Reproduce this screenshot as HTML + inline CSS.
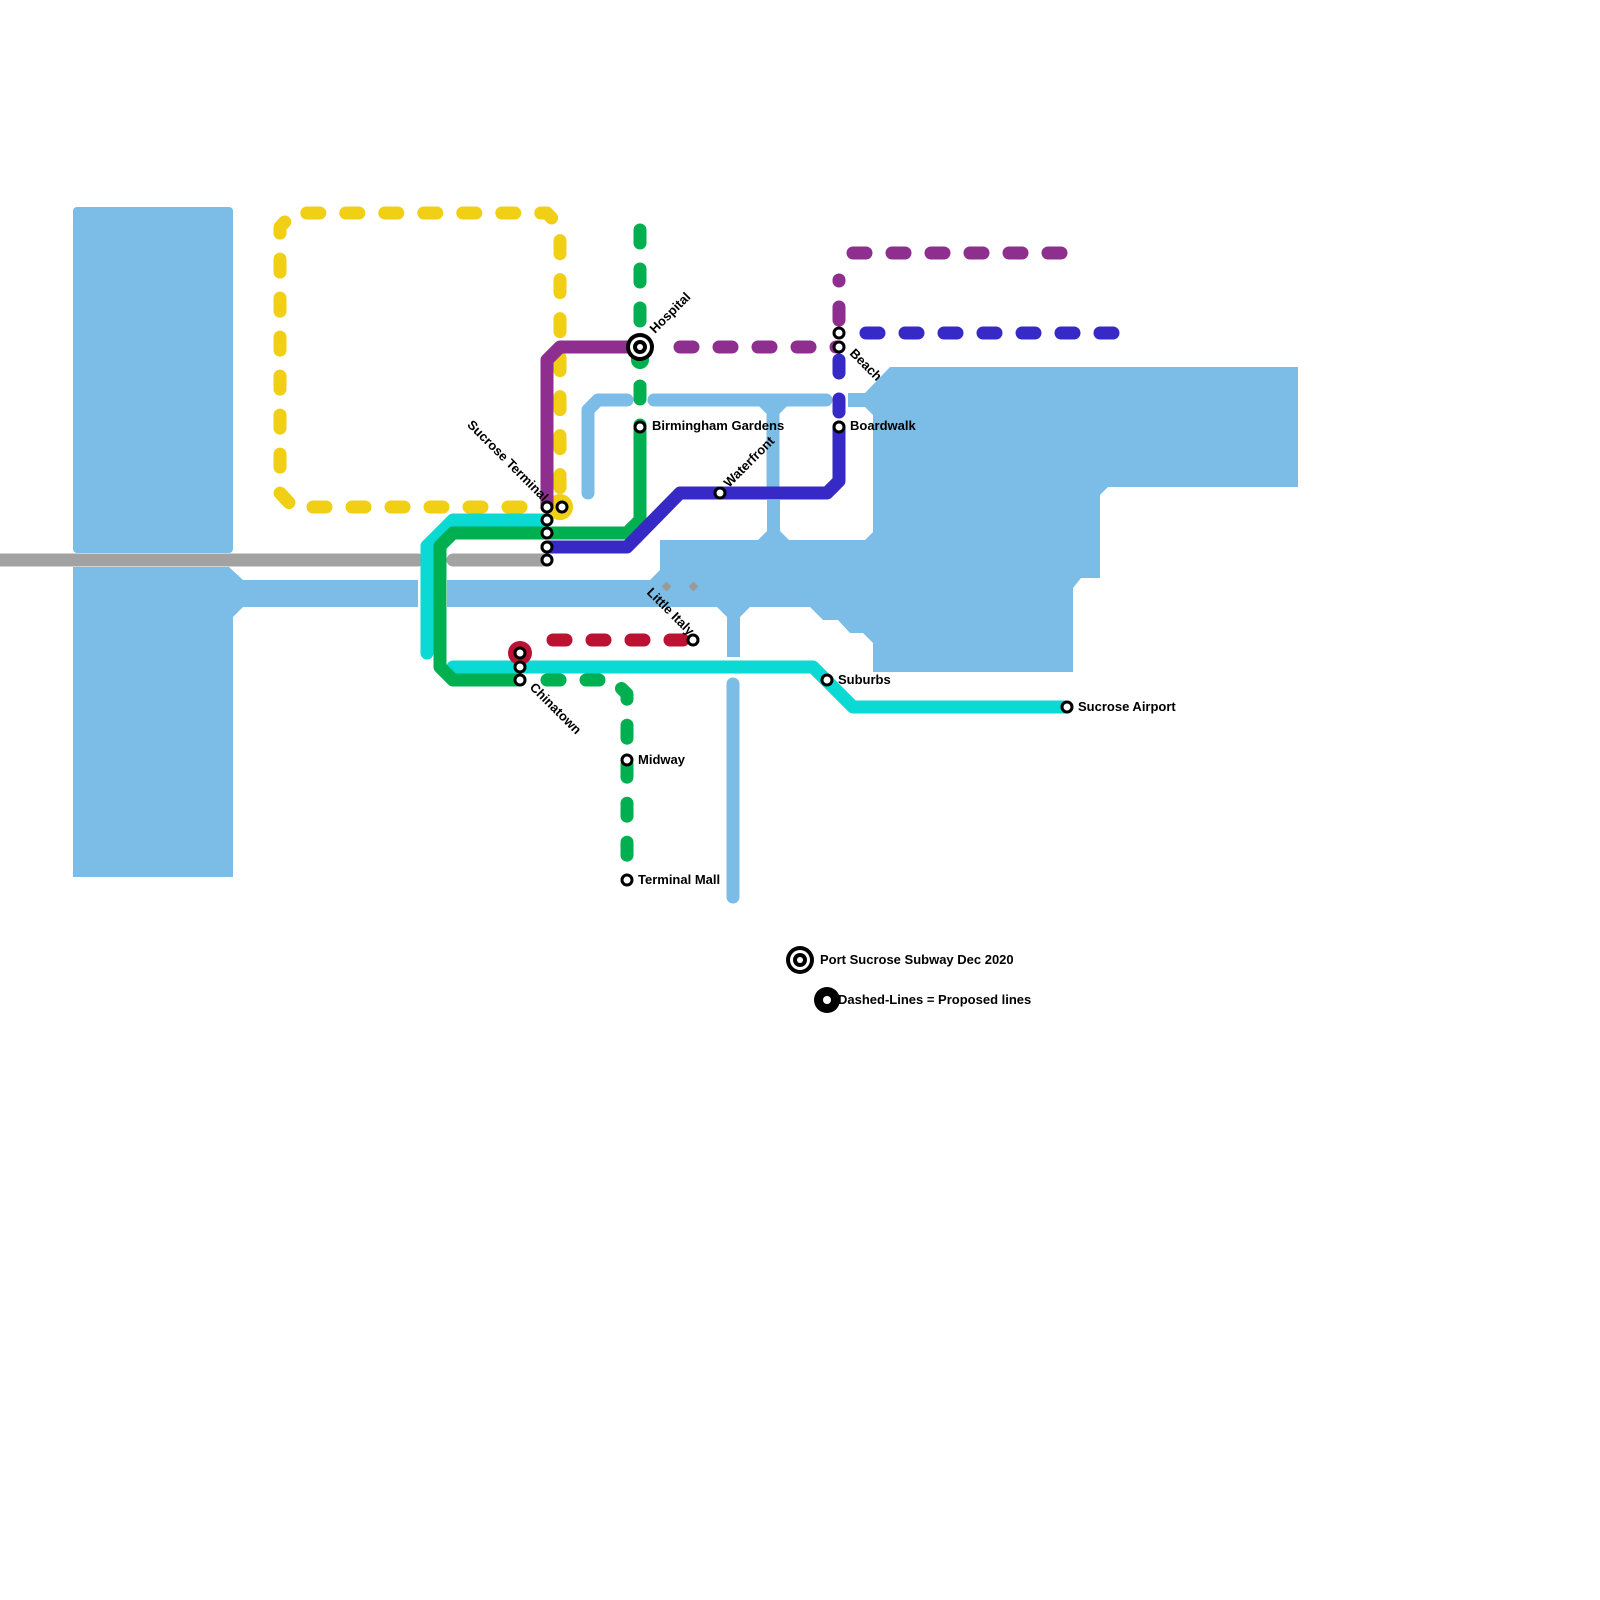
<!DOCTYPE html>
<html><head><meta charset="utf-8"><style>
html,body{margin:0;padding:0;background:#fff;}
svg{display:block;}
text{font-family:"Liberation Sans",Arial,sans-serif;font-weight:bold;font-size:13px;fill:#000;}
</style></head><body>
<svg width="1600" height="1600" viewBox="0 0 1600 1600" xmlns="http://www.w3.org/2000/svg">
<g fill="#7cbde8" stroke="none">
<rect x="73" y="207" width="160" height="346" rx="4"/>
<polygon points="73,567 229,567 243,580 418,580 418,607 243,607 233,617 233,877 73,877"/>
<polygon points="447,580 650,580 660,570 660,540 758,540 767,531 767,500 780,500 780,531 789,540 865,540 873,532 873,415 865,407 848,407 848,393 865,393 890,367 1298,367 1298,487 1108,487 1100,495 1100,578 1081,578 1073,588 1073,672 873,672 873,643 863,633 850,633 838,620 823,620 810,607 750,607 740,617 740,657 727,657 727,617 717,607 447,607"/>
</g>
<g fill="none" stroke="#7cbde8" stroke-width="13" stroke-linecap="round" stroke-linejoin="round">
<path d="M588,493 V410 L598,400 H627"/>
<path d="M654,400 H826"/>
<path d="M773,400 V487"/>
<path d="M762,400 L773,411 L784,400"/>
<path d="M733,684 V897"/>
</g>
<g fill="#999"><rect x="663" y="583" width="7" height="7" transform="rotate(45 666.5 586.5)"/><rect x="690" y="583" width="7" height="7" transform="rotate(45 693.5 586.5)"/></g>
<g fill="none" stroke-width="13" stroke-linecap="round" stroke-linejoin="round">
<path d="M0,560 H418 M453,560 H547" stroke="#a2a2a2"/>
<path d="M560,507 H293 L280,493 V227 L293,213 H547 L560,227 V507" stroke="#f0cf15" stroke-dasharray="13 26"/>
<circle cx="560" cy="507" r="7" stroke="#f0cf15" stroke-width="12"/>
<path d="M547,520 H453 L427,546 V653" stroke="#0bd9d3"/>
<path d="M453,667 H813 L853,707 H1067" stroke="#0bd9d3"/>
<path d="M547,533 H627 L640,520 V427" stroke="#00b050"/>
<path d="M547,533 H453 L440,546 V667 L453,680 H520" stroke="#00b050"/>
<path d="M547,680 H613 L627,694 V880" stroke="#00b050" stroke-dasharray="13 26"/>
<path d="M640,230 V347" stroke="#00b050" stroke-dasharray="13 26"/>
<path d="M640,347 V360" stroke="#00b050" stroke-width="18"/>
<path d="M640,386 V427" stroke="#00b050" stroke-dasharray="13 26"/>
<path d="M547,507 V360 L560,347 H640" stroke="#8e2e8e"/>
<path d="M680,347 H839" stroke="#8e2e8e" stroke-dasharray="13 26"/>
<path d="M839,320 V280" stroke="#8e2e8e" stroke-dasharray="13 26"/>
<path d="M853,253 H1067" stroke="#8e2e8e" stroke-dasharray="13 26"/>
<path d="M866,333 H1121" stroke="#3629c6" stroke-dasharray="13 26"/>
<path d="M839,347 V427" stroke="#3629c6" stroke-dasharray="13 26" stroke-dashoffset="-13"/>
<path d="M547,547 H627 L680,493 H827 L839,481 V427" stroke="#3629c6"/>
<path d="M553,640 H693" stroke="#bb1133" stroke-dasharray="13 26"/>
</g>
<circle cx="520" cy="653" r="12" fill="#bb1133"/>
<circle cx="640" cy="347" r="14" fill="#000"/>
<circle cx="640" cy="347" r="10" fill="#fff"/>
<circle cx="640" cy="347" r="7" fill="#000"/>
<g fill="#fff" stroke="#000" stroke-width="3">
<circle cx="640" cy="347" r="3" stroke="none"/>
<circle cx="547" cy="507" r="5"/><circle cx="547" cy="520" r="5"/><circle cx="547" cy="533" r="5"/><circle cx="547" cy="547" r="5"/><circle cx="547" cy="560" r="5"/>
<circle cx="562" cy="507" r="5"/>
<circle cx="520" cy="653" r="5"/><circle cx="520" cy="667" r="5"/><circle cx="520" cy="680" r="5"/>
<circle cx="640" cy="427" r="5"/>
<circle cx="720" cy="493" r="5"/>
<circle cx="839" cy="333" r="5"/><circle cx="839" cy="347" r="5"/>
<circle cx="839" cy="427" r="5"/>
<circle cx="693" cy="640" r="5"/>
<circle cx="827" cy="680" r="5"/>
<circle cx="1067" cy="707" r="5"/>
<circle cx="627" cy="760" r="5"/>
<circle cx="627" cy="880" r="5"/>
</g>
<text x="652" y="430">Birmingham Gardens</text>
<text x="850" y="430">Boardwalk</text>
<text x="838" y="684">Suburbs</text>
<text x="1078" y="711">Sucrose Airport</text>
<text x="638" y="764">Midway</text>
<text x="638" y="884">Terminal Mall</text>
<text transform="translate(655,334) rotate(-45)">Hospital</text>
<text transform="translate(729,488) rotate(-45)">Waterfront</text>
<text transform="translate(849,354) rotate(45)">Beach</text>
<text transform="translate(529,688) rotate(45)">Chinatown</text>
<text text-anchor="end" transform="translate(543,502) rotate(45)">Sucrose Terminal</text>
<text text-anchor="end" transform="translate(689,636) rotate(45)">Little Italy</text>
<circle cx="800" cy="960" r="14" fill="#000"/>
<circle cx="800" cy="960" r="10" fill="#fff"/>
<circle cx="800" cy="960" r="7" fill="#000"/>
<circle cx="800" cy="960" r="3" fill="#fff"/>
<text x="820" y="964">Port Sucrose Subway Dec 2020</text>
<circle cx="827" cy="1000" r="13" fill="#000"/>
<circle cx="827" cy="1000" r="4" fill="#fff"/>
<text x="838" y="1004">Dashed-Lines = Proposed lines</text>
</svg>
</body></html>
